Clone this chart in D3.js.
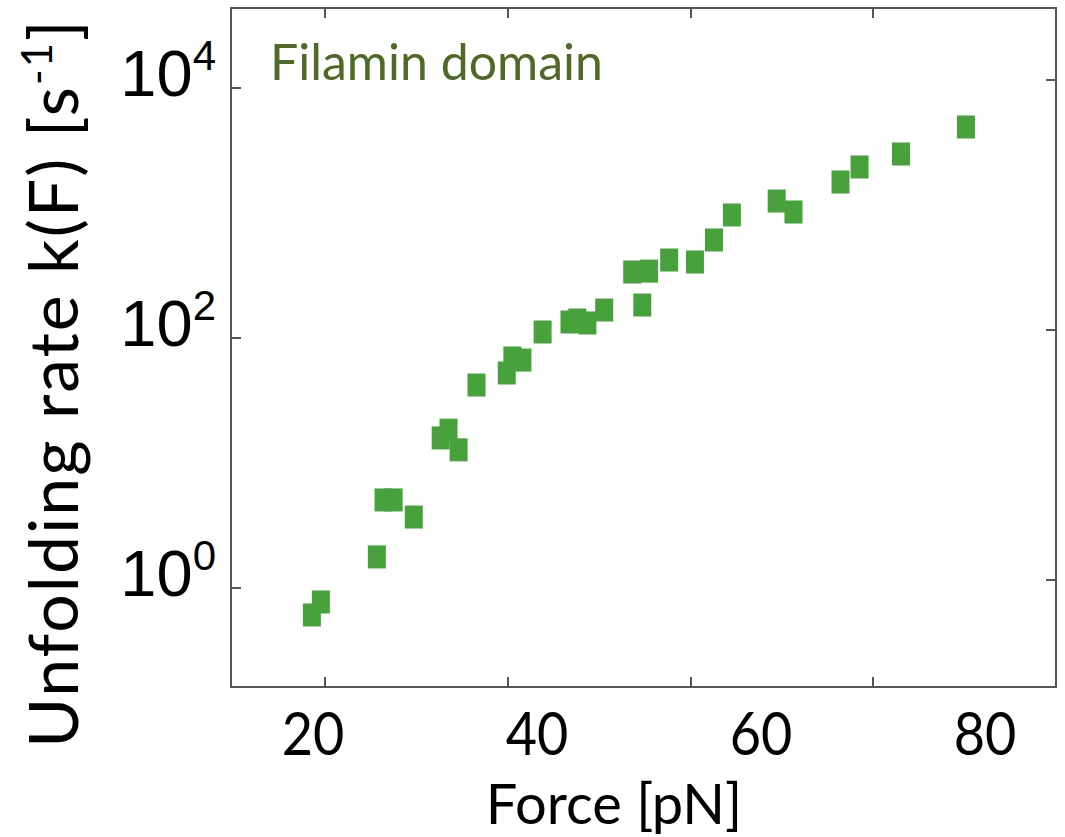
<!DOCTYPE html>
<html><head><meta charset="utf-8">
<script src="https://cdn.jsdelivr.net/npm/d3@7"></script>
<style>body{margin:0;background:#fff}</style>
</head><body>
<svg id="chart" width="1065" height="837"></svg>
<script>
// Data
const force = [19.9,20.7,25.7,26.3,27.2,29.0,31.4,32.1,33.0,34.6,37.3,37.8,38.7,40.5,42.9,43.6,44.5,46.0,48.5,50.0,49.4,51.8,54.1,55.8,57.4,61.4,62.9,67.1,68.8,72.5,78.3];
const rate  = [0.525,0.667,1.53,4.37,4.37,3.19,13.7,15.8,11.0,36.3,45.3,59.7,57.5,96.4,115.9,120.2,113.8,144.5,291,296,158.5,363,350,525,832,1076,879,1528,2014,2559,4207];
const xTickLabels = [20,40,60,80];
const xTickMarks = [21.07,37.41,53.75,70.0];
const yTickExps = [0,2,4];
const xLabel = "Force [pN]";
const yLabel = "Unfolding rate k(F) [s";
const title = "Filamin domain";

const L=231,T=8,R=1056,B=687;
const svg=d3.select("#chart");
const x=d3.scaleLinear().domain([20,80]).range([313,985]);
const y=d3.scaleLog().domain([1,1e4]).range([580,80]);
const xd = [x.invert(L), x.invert(R)];
x.domain(xd).range([L,R]);
const yd=[y.invert(B), y.invert(T)];
y.domain(yd).range([B,T]);

// points
svg.append("g").selectAll("rect").data(force.map((f,i)=>[f,rate[i]])).join("rect")
  .attr("x",d=>x(d[0])-9).attr("y",d=>y(d[1])-11.5)
  .attr("width",18).attr("height",23)
  .attr("fill","#47a23b");

// frame
const axc="#555";
svg.append("rect").attr("x",L).attr("y",T).attr("width",R-L).attr("height",B-T)
  .attr("fill","none").attr("stroke",axc).attr("stroke-width",2);

// tick marks
const tk=svg.append("g").attr("stroke",axc).attr("stroke-width",2);
xTickMarks.forEach(v=>{
  tk.append("line").attr("x1",x(v)).attr("x2",x(v)).attr("y1",B).attr("y2",B-10);
  tk.append("line").attr("x1",x(v)).attr("x2",x(v)).attr("y1",T).attr("y2",T+10);
});
yTickExps.forEach(e=>{
  const yy=y(Math.pow(10,e));
  tk.append("line").attr("x1",L).attr("x2",L+10).attr("y1",yy+8).attr("y2",yy+8);
  tk.append("line").attr("x1",R).attr("x2",R-10).attr("y1",yy).attr("y2",yy);
});

// x tick labels
svg.append("g").selectAll("text").data(xTickLabels).join("text")
  .attr("x",d=>x(d)).attr("y",755).attr("text-anchor","middle")
  .attr("font-family","Lato").attr("font-size",60).attr("fill","#000")
  .attr("transform",d=>`translate(${x(d)*0.1},0) scale(0.9,1)`)
  .text(d=>d);

// y tick labels
yTickExps.forEach(e=>{
  const yy=y(Math.pow(10,e));
  const t=svg.append("text").attr("x",216).attr("y",yy+16).attr("text-anchor","end")
    .attr("font-family","Liberation Sans").attr("font-size",65).attr("fill","#000");
  t.append("tspan").text("10");
  t.append("tspan").attr("dy",-26).attr("font-size",42).text(e);
});

// x label
svg.append("text").attr("x",614).attr("y",824).attr("text-anchor","middle")
  .attr("font-family","Lato").attr("font-size",56).attr("fill","#000").text(xLabel);

// y label
const yl=svg.append("text").attr("transform","translate(78,383) rotate(-90)")
  .attr("text-anchor","middle").attr("font-family","Lato").attr("font-size",68).attr("fill","#000")
  .attr("letter-spacing",2);
yl.append("tspan").text(yLabel);
yl.append("tspan").attr("dy",-26).attr("font-size",42).text("-1");
yl.append("tspan").attr("dy",26).text("]");

// title
svg.append("text").attr("x",270).attr("y",80).attr("font-family","Lato")
  .attr("font-size",50).attr("fill","#4f6a25").text(title);
</script>
</body></html>
